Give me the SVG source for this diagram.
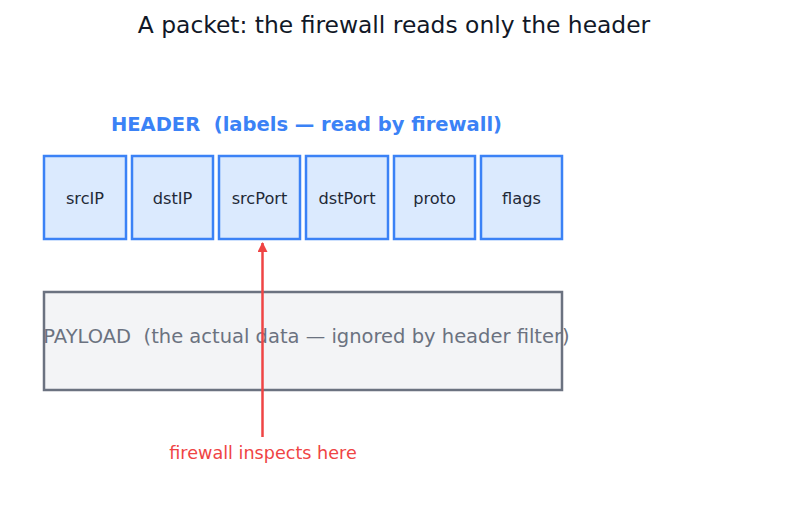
<svg xmlns="http://www.w3.org/2000/svg" width="787" height="510" viewBox="0 0 787 510">
<style>
text{font-family:"DejaVu Sans",sans-serif;text-anchor:middle;dominant-baseline:central;white-space:pre}
.hdr rect{fill:#dbeafe;stroke:#3b82f6;stroke-width:2.5}
.hdr text{font-size:16.2px;fill:#1f2937}
</style>
<defs>
<marker id="ah" viewBox="0 0 10 10" refX="9" refY="5" markerWidth="10" markerHeight="10" markerUnits="userSpaceOnUse" orient="auto">
<path d="M0,0 L10,5 L0,10 Z" fill="#ef4444"/>
</marker>
</defs>
<rect width="787" height="510" fill="#ffffff"/>
<text x="394" y="25" font-size="23.4" fill="#111827">A packet: the firewall reads only the header</text>
<text x="306.5" y="124" font-size="19.5" font-weight="bold" fill="#3b82f6" xml:space="preserve">HEADER  (labels — read by firewall)</text>
<g id="srcIP" class="hdr"><rect x="44" y="156" width="82" height="83"/><text x="85" y="198">srcIP</text></g>
<g id="dstIP" class="hdr"><rect x="132" y="156" width="81" height="83"/><text x="172.5" y="198">dstIP</text></g>
<g id="srcPort" class="hdr"><rect x="219" y="156" width="81" height="83"/><text x="259.5" y="198">srcPort</text></g>
<g id="dstPort" class="hdr"><rect x="306" y="156" width="82" height="83"/><text x="347" y="198">dstPort</text></g>
<g id="proto" class="hdr"><rect x="394" y="156" width="81" height="83"/><text x="434.5" y="198">proto</text></g>
<g id="flags" class="hdr"><rect x="481" y="156" width="81" height="83"/><text x="521.5" y="198">flags</text></g>
<g id="payload"><rect x="44" y="292" width="518" height="98" fill="#f3f4f6" stroke="#6b7280" stroke-width="2.5"/><text x="306.5" y="336" font-size="19.5" fill="#6b7280" xml:space="preserve">PAYLOAD  (the actual data — ignored by header filter)</text></g>
<g id="connectors"><line x1="262.5" y1="437" x2="262.5" y2="243" stroke="#ef4444" stroke-width="2.5" marker-end="url(#ah)"/></g>
<g id="note"><text x="263" y="453" font-size="17.6" fill="#ef4444">firewall inspects here</text></g>
</svg>
